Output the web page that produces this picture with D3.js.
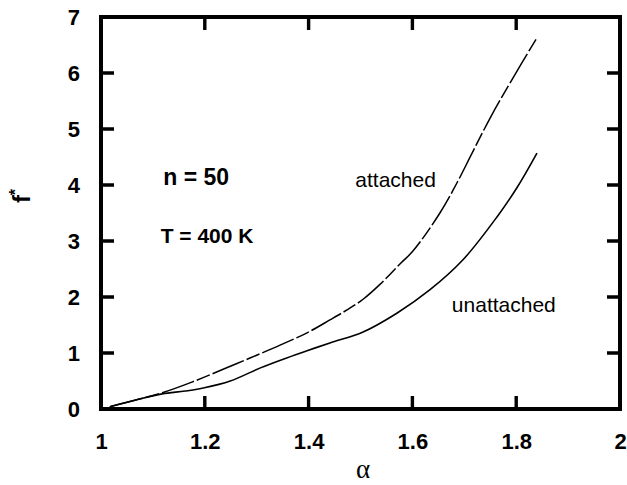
<!DOCTYPE html>
<html>
<head>
<meta charset="utf-8">
<script src="https://cdn.jsdelivr.net/npm/d3@7"></script>
<style>
  html, body { margin: 0; padding: 0; background: #fff; }
  svg { display: block; }
</style>
</head>
<body>
<svg id="chart" width="627" height="485"></svg>
<script>
// ---- data ----
const attachedAlpha = [1.017, 1.067, 1.118, 1.175, 1.233, 1.287, 1.345, 1.397, 1.441, 1.474, 1.505, 1.538, 1.576, 1.601, 1.653, 1.686, 1.715, 1.750, 1.788, 1.840];
const attachedF     = [0.04, 0.16, 0.29, 0.48, 0.70, 0.91, 1.14, 1.36, 1.59, 1.77, 1.96, 2.23, 2.59, 2.82, 3.50, 4.04, 4.57, 5.20, 5.82, 6.63];
const unattAlpha    = [1.017, 1.067, 1.118, 1.162, 1.197, 1.249, 1.306, 1.351, 1.397, 1.441, 1.505, 1.570, 1.634, 1.697, 1.763, 1.802, 1.840];
const unattF        = [0.04, 0.16, 0.27, 0.32, 0.375, 0.50, 0.73, 0.89, 1.04, 1.18, 1.375, 1.71, 2.13, 2.66, 3.43, 3.96, 4.57];
const xTicks = [1, 1.2, 1.4, 1.6, 1.8, 2];
const yTicks = [0, 1, 2, 3, 4, 5, 6, 7];
const xTickLabels = ["1", "1.2", "1.4", "1.6", "1.8", "2"];
const yTickLabels = ["0", "1", "2", "3", "4", "5", "6", "7"];
const annotations = [
  { text: "n = 50", a: 1.12, f: 4.0, bold: true, size: 23 },
  { text: "T = 400 K", a: 1.115, f: 2.97, bold: true, size: 21 },
  { text: "attached", a: 1.49, f: 3.96, bold: false, size: 21 },
  { text: "unattached", a: 1.676, f: 1.73, bold: false, size: 21 }
];

const svg = d3.select("#chart");
const L = 101, R = 620, T = 17, B = 409;
const x = d3.scaleLinear().domain([1, 2]).range([L, R]);
const y = d3.scaleLinear().domain([0, 7]).range([B, T]);

const font = "'Liberation Sans', Arial, Helvetica, sans-serif";

// frame
svg.append("rect").attr("x", L).attr("y", T).attr("width", R - L).attr("height", B - T)
  .attr("fill", "none").attr("stroke", "#000").attr("stroke-width", 4);

// frame outline + inward tick marks as a single path
const tickLen = 13;
const fp = d3.path();
fp.moveTo(L, T); fp.lineTo(R, T); fp.lineTo(R, B); fp.lineTo(L, B); fp.closePath();
xTicks.slice(1, -1).forEach(d => {
  fp.moveTo(x(d), B); fp.lineTo(x(d), B - tickLen);
  fp.moveTo(x(d), T); fp.lineTo(x(d), T + tickLen);
});
yTicks.slice(1, -1).forEach(d => {
  fp.moveTo(L, y(d)); fp.lineTo(L + tickLen, y(d));
  fp.moveTo(R, y(d)); fp.lineTo(R - tickLen, y(d));
});
svg.append("path").attr("d", fp.toString())
  .attr("fill", "none").attr("stroke", "#000").attr("stroke-width", 3.4);

// curves
const line = d3.line().x(d => x(d[0])).y(d => y(d[1])).curve(d3.curveCatmullRom.alpha(0.5));
svg.append("path")
  .datum(attachedAlpha.map((a, i) => [a, attachedF[i]]))
  .attr("d", line).attr("fill", "none").attr("stroke", "#000")
  .attr("stroke-width", 1.5).attr("stroke-dasharray", "34 3 14 3");
svg.append("path")
  .datum(unattAlpha.map((a, i) => [a, unattF[i]]))
  .attr("d", line).attr("fill", "none").attr("stroke", "#000")
  .attr("stroke-width", 1.6);

// axes: labels via d3 axes
const axB = d3.axisBottom(x).tickValues(xTicks).tickSize(0).tickPadding(24)
  .tickFormat((d, i) => xTickLabels[i]);
const axL = d3.axisLeft(y).tickValues(yTicks).tickSize(0).tickPadding(21)
  .tickFormat((d, i) => yTickLabels[i]);

function styleAxis(g) {
  g.select(".domain").remove();
  g.selectAll(".tick line").remove();
  g.selectAll(".tick text").attr("fill", "#000")
    .style("font-family", font).style("font-weight", "bold").style("font-size", "22px");
}
svg.append("g").attr("transform", `translate(0,${B})`).call(axB).call(styleAxis);
svg.append("g").attr("transform", `translate(${L},0)`).call(axL).call(styleAxis);

// axis titles
svg.append("text").attr("x", 363).attr("y", 478).attr("text-anchor", "middle")
  .style("font-family", "'Liberation Serif', 'Times New Roman', serif")
  .style("font-size", "27px").text("α");
const yl = svg.append("text").attr("transform", "translate(30,196) rotate(-90)")
  .attr("text-anchor", "middle")
  .style("font-family", font).style("font-weight", "bold").style("font-size", "24px");
yl.append("tspan").text("f");
yl.append("tspan").attr("dy", -9).style("font-size", "16px").text("*");

// annotations
svg.selectAll("text.ann").data(annotations).enter().append("text")
  .attr("class", "ann")
  .attr("x", d => x(d.a)).attr("y", d => y(d.f))
  .style("font-family", font)
  .style("font-weight", d => d.bold ? "bold" : "normal")
  .style("font-size", d => d.size + "px")
  .text(d => d.text);
</script>
</body>
</html>
